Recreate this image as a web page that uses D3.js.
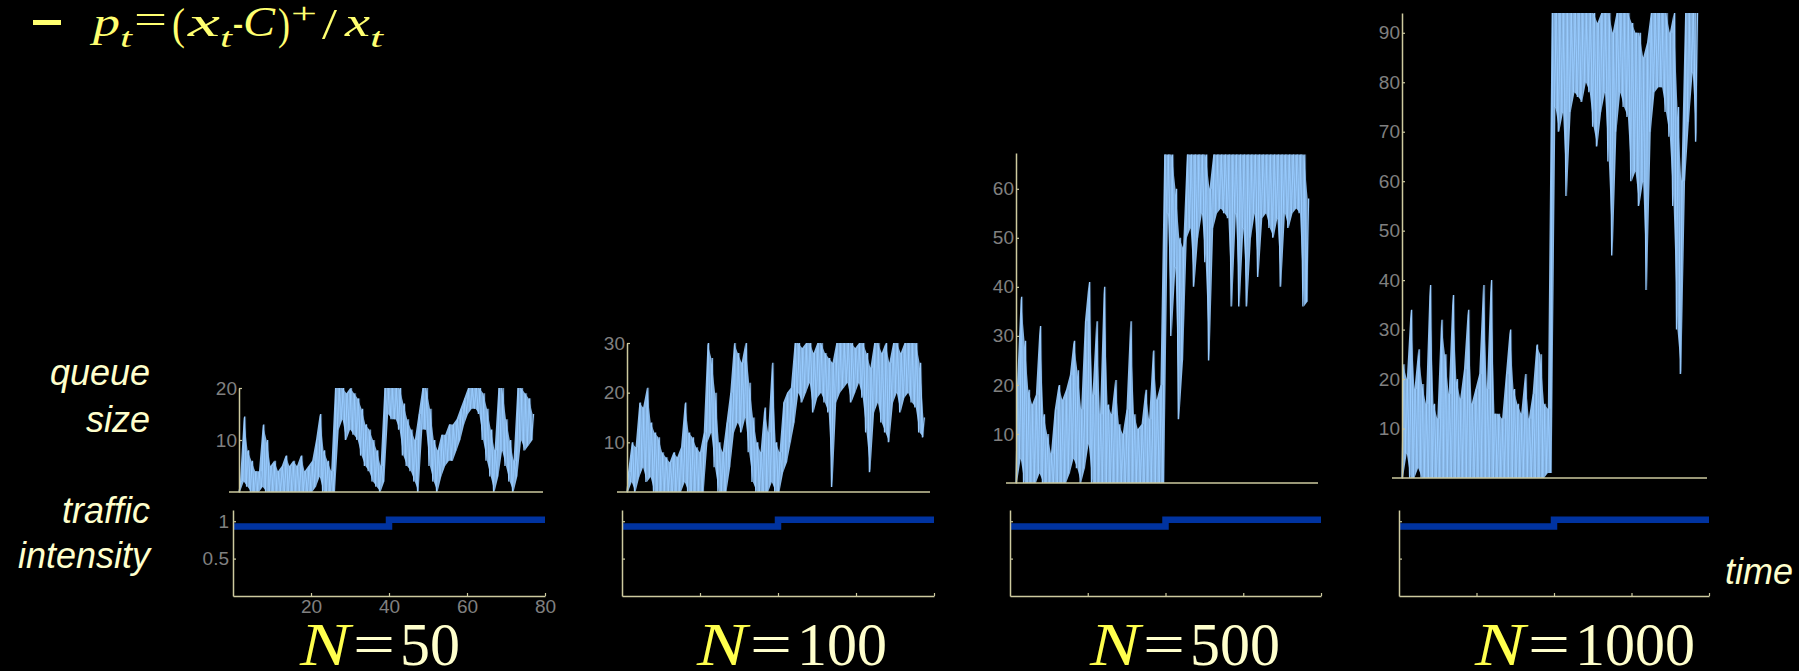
<!DOCTYPE html>
<html><head><meta charset="utf-8">
<script src="https://cdn.jsdelivr.net/npm/d3@7"></script>
<style>
html,body{margin:0;padding:0;background:#000;}
svg{display:block;background:#000;}
</style></head>
<body>
<svg id="chart" width="1799" height="671"></svg>
<script>
// ---------------- data ----------------
const timeDomain = [0, 80];
const trafficTimes = [0, 40, 80];
const trafficRho = [0.93, 1.02, 1.02];
const trafficYTicks = [0.5, 1];
const trafficXTicks = [20, 40, 60, 80];
const bufferSizes = ["50", "100", "500", "1000"];
const queueMax = [20, 30, 67.3, 94];
const queueTicks50 = [10, 20];
const queueTicks100 = [10, 20, 30];
const queueTicks500 = [10, 20, 30, 40, 50, 60];
const queueTicks1000 = [10, 20, 30, 40, 50, 60, 70, 80, 90];

// queue size per time unit: low and high value read in each unit
const q50Lo = [0,2,1,0,0,0,1,0,0,0, 0,0,0,0,0,0,0,0,0,0, 1,3,0,0,0,0,12,14,10,12,
  11,10,7,5,4,2,1,0,2,15, 14,14,12,7,5,4,2,0,12,12, 5,2,0,3,5,6,6,8,10,13,
  15,16,16,15,10,6,3,0,3,8, 5,2,0,3,10,8,9,10];
const q50Hi = [2,14.5,8,6,4,4,13,10,5,6, 4,5,7,5,6,5,7,4,5,6, 10,15,8,6,4,20,20,20,19,20,
  19,18,16,13,12,10,8,5,20,20, 20,20,20,17,14,12,10,15,20,20, 16,10,8,11,11,13,13,14,16,18,
  20,20,20,20,19,16,12,8,20,20, 14,10,6,20,20,19,18,15];

const q100Lo = [0,2,0,3,5,2,3,0,0,0, 0,0,0,0,0,2,0,0,0,0, 0,10,12,5,0,0,0,5,12,14,
  12,15,8,2,0,0,0,0,2,0, 0,4,6,10,14,20,18,20,22,16, 19,20,18,16,1,18,20,21,22,18,
  20,22,19,12,4,16,18,14,12,10, 18,20,16,19,20,18,17,12,11];
const q100Hi = [4,10,9,18,17,21,14,12,11,8, 7,6,8,7,9,18,12,11,9,8, 12,30,27,20,10,8,14,20,30,28,
  26,30,22,15,10,8,17,12,26,10, 8,18,20,21,30,30,29,30,30,28, 30,30,28,27,26,30,30,30,30,30,
  29,30,30,28,25,30,30,28,30,26, 30,30,28,30,30,30,30,26,15];

const q500Lo = [0,5,0,0,0,0,2,0,0,0, 0,0,0,0,2,5,3,0,3,8, 0,0,0,0,0,0,0,0,0,0,
  0,0,0,0,0,0,0,0,0,0, 55,30,44,13,25,50,52,40,50,55, 45,25,52,55,56,55,54,36,55,36,
  52,36,50,55,42,54,55,52,50,54, 40,55,52,55,56,55,36,37];
const q500Hi = [20,38,29,19,16,18,32,14,10,6, 15,20,17,19,22,29,23,15,33,41, 18,33,14,40,16,14,21,12,10,15,
  33,14,11,12,19,13,27,17,20,67, 67,67,60,50,48,67,67,67,67,67, 67,60,67,67,67,67,67,67,67,67,
  67,67,67,67,67,67,67,67,67,67, 67,67,67,67,67,67,67,58];

const q1000Lo = [0,5,0,0,2,0,0,0,0,0, 0,0,0,0,0,0,0,0,0,0, 0,0,0,0,0,0,0,0,0,0,
  0,0,0,0,0,0,0,0,1,1, 75,70,74,57,74,78,77,76,80,78, 71,67,74,78,64,45,70,78,75,73,
  60,62,55,60,38,70,78,79,79,74, 69,55,30,21,60,72,82,68];
const q1000Hi = [23,20,34,18,26,19,15,39,15,12, 32,25,17,37,20,16,22,34,15,18, 21,39,18,40,13,13,12,21,30,18,
  15,13,21,12,17,27,25,15,14,94, 94,94,94,94,94,94,94,94,94,94, 94,92,94,94,94,90,94,94,94,94,
  92,90,90,85,88,94,94,94,94,94, 90,94,75,60,94,94,94,94];

const queueLo = [q50Lo, q100Lo, q500Lo, q1000Lo];
const queueHi = [q50Hi, q100Hi, q500Hi, q1000Hi];
const queueTicks = [queueTicks50, queueTicks100, queueTicks500, queueTicks1000];

// ---------------- layout ----------------
const layout = [
  {qx:239,  qx1:543,  qBase:492, qTop:388, tx:233,  tx1:545,  labelX:300},
  {qx:627,  qx1:930,  qBase:492, qTop:343, tx:622,  tx1:934,  labelX:697},
  {qx:1016, qx1:1318, qBase:483, qTop:153, tx:1010, tx1:1321, labelX:1090},
  {qx:1402, qx1:1707, qBase:478, qTop:13,  tx:1399, tx1:1709, labelX:1475}
];
const tBase = 596, tTop = 510, tMax = 1.15;

const AXIS = "#cdca9f", TICKTXT = "#808080", CREAM = "#ffffcc", QBLUE = "#99ccff", TBLUE = "#0033a0";
const SANS = "'Liberation Sans', Arial, sans-serif";
const SERIF = "'Liberation Serif', 'Times New Roman', serif";

const svg = d3.select("#chart");

function styleAxis(g, showLabels) {
  g.select(".domain").attr("stroke", AXIS).attr("stroke-width", 1.5);
  g.selectAll(".tick line").attr("stroke", AXIS).attr("stroke-width", 1.2);
  g.selectAll(".tick text").attr("fill", TICKTXT).attr("font-size", 19)
    .attr("font-family", SANS).style("display", showLabels ? null : "none");
}

layout.forEach((L, i) => {
  const lo = queueLo[i], hi = queueHi[i];
  const xq = d3.scaleLinear().domain(timeDomain).range([L.qx, L.qx1]);
  const yq = d3.scaleLinear().domain([0, queueMax[i]]).range([L.qBase, L.qTop]);

  // queue band between low and high of each time unit
  svg.append("path").datum(lo.map((v, k) => [k + 0.25, v, hi[k]]))
    .attr("d", d3.area().x(d => xq(d[0])).y0(d => yq(d[1])).y1(d => yq(d[2])))
    .attr("fill", QBLUE).attr("fill-opacity", 0.92);
  // queue trace: within each time unit go from low to high value
  const pts = [];
  lo.forEach((v, k) => { pts.push([k, v]); pts.push([k + 0.5, hi[k]]); });
  svg.append("path").datum(pts)
    .attr("d", d3.line().x(d => xq(d[0])).y(d => yq(d[1])))
    .attr("fill", "none").attr("stroke", QBLUE).attr("stroke-width", 1.3);
  svg.append("path").datum(pts)
    .attr("d", d3.line().x(d => xq(d[0] + 0.27)).y(d => yq(d[1])))
    .attr("fill", "none").attr("stroke", "#4d6f93").attr("stroke-width", 0.6).attr("stroke-opacity", 0.35);

  // queue baseline
  svg.append("line").attr("x1", L.qx - 10).attr("x2", L.qx1)
    .attr("y1", L.qBase).attr("y2", L.qBase)
    .attr("stroke", AXIS).attr("stroke-width", 1.5);
  const gq = svg.append("g").attr("transform", `translate(${L.qx},0)`)
    .call(d3.axisLeft(yq).tickValues(queueTicks[i]).tickSize(-3).tickPadding(2).tickSizeOuter(0));
  styleAxis(gq, true);

  // traffic intensity
  const xt = d3.scaleLinear().domain(timeDomain).range([L.tx, L.tx1]);
  const yt = d3.scaleLinear().domain([0, tMax]).range([tBase, tTop]);
  svg.append("path").datum(trafficTimes.map((t, k) => [t, trafficRho[k]]))
    .attr("d", d3.line().curve(d3.curveStepAfter).x(d => xt(d[0])).y(d => yt(d[1])))
    .attr("fill", "none").attr("stroke", TBLUE).attr("stroke-width", 6.5);
  const gty = svg.append("g").attr("transform", `translate(${L.tx},0)`)
    .call(d3.axisLeft(yt).tickValues(trafficYTicks).tickFormat(d => d).tickSize(-3).tickPadding(4).tickSizeOuter(0));
  styleAxis(gty, i === 0);
  const gtx = svg.append("g").attr("transform", `translate(0,${tBase})`)
    .call(d3.axisBottom(xt).tickValues(trafficXTicks).tickSize(-3).tickPadding(4).tickSizeOuter(0));
  styleAxis(gtx, i === 0);

  // N label
  const nd = bufferSizes[i].length;
  svg.append("text").attr("x", L.labelX).attr("y", 665).text("N")
    .attr("textLength", 50).attr("lengthAdjust", "spacingAndGlyphs")
    .attr("font-family", SERIF).attr("font-style", "italic").attr("font-size", 62).attr("fill", "#ffff4d");
  svg.append("text").attr("x", L.labelX + 53).attr("y", 665).text("=")
    .attr("textLength", 42).attr("lengthAdjust", "spacingAndGlyphs")
    .attr("font-family", SERIF).attr("font-size", 62).attr("fill", CREAM);
  svg.append("text").attr("x", L.labelX + 100).attr("y", 665).text(bufferSizes[i])
    .attr("textLength", nd * 30).attr("lengthAdjust", "spacingAndGlyphs")
    .attr("font-family", SERIF).attr("font-size", 62).attr("fill", CREAM);
});

// side labels
const sideLabels = [["queue", 385], ["size", 432], ["traffic", 523], ["intensity", 568]];
sideLabels.forEach(([t, y]) => {
  svg.append("text").attr("x", 150).attr("y", y).attr("text-anchor", "end").text(t)
    .attr("font-family", SANS).attr("font-style", "italic").attr("font-size", 36).attr("fill", CREAM);
});
svg.append("text").attr("x", 1725).attr("y", 584).text("time")
  .attr("font-family", SANS).attr("font-style", "italic").attr("font-size", 36).attr("fill", CREAM);

// title formula: [text, x0, x1, baseline, size, italic]
const TY = "#ffff70";
svg.append("line").attr("x1", 33).attr("x2", 61).attr("y1", 22.5).attr("y2", 22.5)
  .attr("stroke", TY).attr("stroke-width", 5);
const pieces = [
  ["p", 93, 120, 36, 42, true], ["t", 120, 132, 47, 28, true], ["=", 134, 167, 33, 42, false],
  ["(", 172, 185, 39, 44, false], ["x", 188, 220, 36, 42, true], ["t", 220, 232, 47, 28, true],
  ["-", 233, 243, 36, 42, false], ["C", 243, 275, 36, 42, true], [")", 278, 290, 39, 44, false],
  ["+", 291, 317, 23, 30, false], ["/", 322, 337, 39, 44, false], ["x", 345, 370, 36, 42, true],
  ["t", 370, 383, 47, 28, true]
];
pieces.forEach(([t, x0, x1, y, s, it]) => {
  svg.append("text").attr("x", x0).attr("y", y).text(t)
    .attr("textLength", x1 - x0).attr("lengthAdjust", "spacingAndGlyphs")
    .attr("font-family", SERIF).attr("font-style", it ? "italic" : "normal")
    .attr("font-size", s).attr("fill", TY);
});
</script>
</body></html>
